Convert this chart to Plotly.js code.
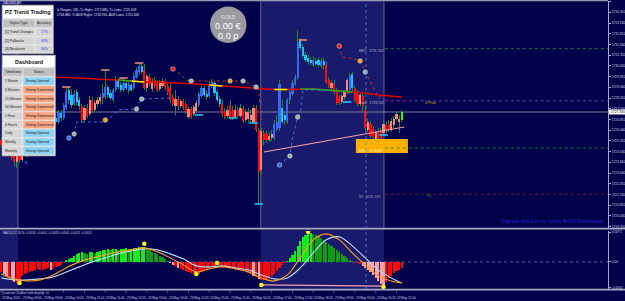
<!DOCTYPE html>
<html><head><meta charset="utf-8">
<script src="https://cdn.plot.ly/plotly-3.0.1.min.js"></script>
<style>html,body{margin:0;padding:0;background:#00004b;overflow:hidden}#chart{width:625px;height:301px}</style>
</head><body><div id="chart"></div>
<script>
// ---------------- DATA ----------------
const barOpen=[1725.37,1725.02,1724.67,1724.88,1724.46,1724.25,1723.83,1724.32,1723.97,1724.53,1725.02,1725.37,1725.16,1725.72,1726.07,1725.86,1726.28,1726.07,1726.49,1726.21,1726.63,1726.91,1726.63,1727.26,1726.91,1727.61,1728.87,1728.52,1727.89,1728.73,1728.17,1727.75,1726.77,1727.61,1727.19,1728.17,1727.47,1727.89,1728.10,1728.31,1728.38,1729.08,1728.66,1728.17,1728.87,1729.57,1729.22,1728.87,1729.36,1728.80,1729.22,1729.01,1729.78,1730.13,1730.55,1730.27,1729.01,1729.78,1728.94,1729.57,1729.36,1728.94,1729.15,1729.50,1729.15,1729.01,1728.38,1727.75,1728.24,1727.75,1728.10,1727.89,1726.98,1727.54,1727.19,1727.40,1727.82,1728.45,1729.01,1728.59,1728.45,1729.22,1729.36,1728.73,1728.24,1727.89,1727.33,1727.05,1727.82,1727.47,1726.98,1727.47,1727.05,1727.54,1726.77,1726.84,1726.77,1726.63,1727.61,1726.07,1723.27,1725.86,1725.79,1725.37,1725.51,1725.51,1726.07,1726.21,1727.61,1727.12,1726.63,1728.17,1728.59,1729.29,1729.71,1732.37,1731.88,1731.32,1731.11,1730.97,1730.62,1730.90,1730.97,1730.55,1730.90,1730.62,1729.57,1729.01,1729.29,1728.87,1728.38,1728.03,1728.38,1728.73,1728.87,1729.99,1729.01,1728.59,1727.89,1728.45,1727.47,1726.07,1726.49,1726.14,1725.44,1725.86,1726.00,1725.86,1726.42,1726.49,1726.07,1726.42,1726.84,1726.63,1726.77];
const barHigh=[1725.58,1725.23,1725.02,1724.95,1724.67,1724.67,1724.46,1724.53,1724.67,1725.16,1725.58,1725.65,1725.93,1726.28,1726.28,1726.49,1726.56,1726.70,1726.77,1726.91,1726.84,1727.12,1727.47,1727.47,1727.96,1729.08,1729.08,1728.94,1728.87,1728.94,1728.38,1727.89,1727.82,1727.89,1728.45,1728.38,1728.17,1728.38,1728.59,1729.29,1730.27,1729.22,1728.87,1729.01,1729.85,1729.71,1729.43,1729.71,1729.57,1729.43,1729.36,1730.06,1730.48,1730.76,1730.69,1730.69,1729.99,1729.99,1729.71,1729.78,1729.57,1729.57,1729.71,1729.64,1729.36,1729.43,1728.59,1728.87,1728.45,1728.24,1728.24,1728.03,1727.75,1727.68,1727.82,1728.17,1728.73,1729.15,1729.15,1728.87,1729.50,1729.64,1729.50,1728.87,1728.45,1728.17,1727.61,1727.75,1728.17,1727.75,1727.82,1727.68,1727.89,1727.75,1727.54,1727.61,1727.47,1727.82,1727.82,1726.21,1726.21,1726.07,1726.00,1725.93,1726.07,1726.77,1727.12,1729.57,1728.17,1727.33,1728.31,1729.01,1729.57,1729.99,1733.07,1732.51,1732.09,1731.53,1731.32,1731.18,1731.25,1731.11,1731.18,1731.11,1731.11,1730.83,1729.78,1729.57,1729.57,1729.01,1728.52,1728.59,1728.87,1729.71,1730.06,1730.13,1729.15,1728.87,1728.73,1728.59,1727.82,1726.84,1726.70,1726.35,1726.07,1726.21,1726.21,1726.70,1726.63,1726.77,1726.91,1727.05,1727.40,1727.12,1727.47];
const barLow=[1724.81,1724.53,1724.46,1724.25,1723.97,1723.55,1723.41,1723.76,1723.83,1724.39,1724.88,1724.95,1725.02,1725.58,1725.65,1725.72,1725.93,1725.93,1726.07,1726.07,1726.28,1726.49,1726.49,1726.70,1726.77,1727.47,1727.89,1727.61,1727.75,1727.82,1727.47,1726.56,1726.63,1726.91,1727.05,1727.26,1727.33,1727.75,1727.89,1727.89,1728.24,1728.31,1728.17,1728.03,1728.73,1728.94,1728.73,1728.73,1728.87,1728.59,1728.73,1728.87,1729.64,1729.92,1729.99,1728.87,1728.73,1729.15,1728.73,1729.01,1728.73,1728.80,1729.01,1728.87,1728.52,1727.96,1727.75,1727.12,1727.47,1727.61,1727.47,1727.19,1726.84,1726.84,1727.05,1727.26,1727.68,1728.31,1728.38,1728.17,1728.31,1729.01,1728.45,1728.03,1727.68,1726.98,1726.84,1726.91,1726.77,1726.77,1726.84,1726.91,1726.91,1726.56,1726.63,1726.56,1726.63,1726.49,1725.93,1720.89,1722.99,1725.02,1725.16,1725.23,1725.30,1725.37,1725.93,1726.00,1726.49,1726.42,1726.49,1727.89,1728.45,1729.15,1729.57,1731.67,1731.11,1730.83,1730.69,1730.62,1730.48,1730.55,1730.48,1730.41,1730.27,1729.29,1729.01,1728.87,1728.59,1727.82,1727.82,1727.89,1728.17,1728.59,1728.59,1728.73,1728.03,1727.75,1727.75,1727.33,1726.07,1725.93,1725.51,1725.37,1725.30,1725.09,1725.30,1725.72,1725.86,1725.93,1725.93,1726.21,1726.70,1725.86,1726.63];
const barClose=[1725.02,1724.67,1724.88,1724.46,1724.11,1723.83,1724.32,1723.97,1724.53,1725.02,1725.37,1725.16,1725.72,1726.07,1725.86,1726.28,1726.07,1726.49,1726.21,1726.63,1726.42,1726.63,1727.33,1726.91,1727.82,1728.73,1728.17,1727.82,1728.59,1728.03,1727.75,1726.77,1727.61,1727.05,1728.17,1727.40,1727.96,1728.17,1728.38,1728.66,1729.08,1728.52,1728.31,1728.87,1729.64,1729.08,1728.87,1729.36,1729.01,1729.29,1728.87,1729.85,1730.27,1730.55,1730.13,1729.01,1729.85,1729.29,1729.50,1729.15,1728.87,1729.36,1729.50,1729.08,1728.73,1728.17,1727.89,1728.24,1727.75,1728.10,1727.68,1727.33,1727.54,1726.98,1727.68,1727.96,1728.59,1729.01,1728.52,1728.38,1729.29,1729.43,1728.66,1728.17,1727.89,1727.19,1726.98,1727.47,1726.91,1726.91,1727.47,1727.05,1727.61,1726.70,1727.33,1727.33,1727.12,1727.61,1726.07,1723.13,1726.00,1725.37,1725.37,1725.65,1725.79,1726.49,1726.63,1729.29,1726.63,1726.77,1728.17,1728.73,1729.36,1729.78,1732.23,1731.81,1731.25,1730.97,1730.83,1730.76,1730.97,1730.69,1730.62,1730.90,1730.62,1729.43,1729.15,1729.36,1728.73,1727.96,1727.96,1728.45,1728.73,1729.57,1729.85,1729.01,1728.17,1727.89,1728.52,1727.75,1726.21,1726.63,1725.65,1725.58,1725.93,1725.51,1725.44,1726.49,1726.07,1726.07,1726.70,1726.84,1727.19,1726.84,1727.33];
// trend state per bar: B up-bull, C up-bear, R down-bear, S down-bull, G current
const barState="RRSRRRSRSBBCBBCBCBRSRCBCBBCCBCCRSRSRSSSBBCCBBCCBCBCBBBCRSRSRRSSRRRRSRSRRSRSSBBCCBBCCCRRSRRSRSRSSSSRRSRRSSBBBCCBBBBBCCCCCBCCBCRRSRRRSSSBCRRSRRSRRSRRSRRSSSSG".split("");
const hiMarkIdx=[25,40,47,53,116], hiMarkPx=[1729.08,1730.27,1729.71,1730.76,1732.37];
const loMarkIdx=[76,89,97,99,133,147], loMarkPx=[1727.12,1726.91,1726.56,1720.89,1728.03,1725.72];
const emaIdx=[0,5,10,15,20,25,30,35,40,45,50,55,60,65,70,75,80,85,90,95,100,105,110,115,120,125,130,135,140,145,150,154];
const emaVal=[1729.85,1729.85,1729.815,1729.78,1729.78,1729.745,1729.71,1729.64,1729.605,1729.57,1729.50,1729.43,1729.43,1729.395,1729.325,1729.29,1729.22,1729.15,1729.08,1729.01,1728.94,1728.905,1728.905,1728.94,1728.94,1728.87,1728.80,1728.73,1728.66,1728.52,1728.45,1728.38];
const emaGreenRanges=[[45,50],[115,135]], emaYellowRanges=[[50,55],[80,85],[105,110]];
const stopUp1Idx=[26,28,29,39,40,41,45,52,54,65], stopUp1Px=[1725.51,1725.79,1726.63,1726.63,1726.77,1726.77,1727.47,1727.54,1728.24,1728.31];
const stopDn1Idx=[66,68,71,73,88,93,98,99,100], stopDn1Px=[1730.34,1730.13,1729.57,1729.50,1729.50,1729.50,1729.08,1728.87,1726.77];
const stopUp2Idx=[107,111,112,114,115,116,125], stopUp2Px=[1723.62,1724.25,1725.51,1726.98,1727.26,1728.87,1728.87];
const stopDn2Idx=[130,131,138,140,145,146], stopDn2Px=[1731.95,1731.18,1730.97,1730.13,1728.38,1728.38];
const dotIdx=[10,26,28,40,52,54,66,73,88,93,98,107,111,114,130,138,140];
const dotPx=[1724.39,1725.51,1725.79,1726.77,1727.54,1728.24,1730.34,1729.50,1729.50,1729.50,1729.08,1723.62,1724.25,1726.98,1731.95,1730.90,1730.13];
const dotKind=["g","b","g","o","g","g","r","g","o","g","g","b","g","g","r","o","g"];
const trendLineIdx=[101,155], trendLinePx=[1724.53,1726.28];
const pivotNames=["MR1","Pivot","MS1","S1"], pivotValues=[1731.762,1728.110,1724.807,1721.579];
const sessionStart=[-0.5,99.8], sessionEnd=[6.4,147.2];
const zoneIdx=[136.4,156.4], zonePx=[1724.46,1725.44];
const cursorIdx=140.3;
const macdHist=[-0.0024,-0.00288,-0.00336,-0.0036,-0.00432,-0.0048,-0.00504,-0.00456,-0.00336,-0.00288,-0.00264,-0.0024,-0.00216,-0.00192,-0.00168,-0.00192,-0.00192,-0.00168,-0.00144,-0.00192,-0.00168,-0.0012,-0.00096,-0.00072,-0.00024,0.00048,0.00072,0.00096,0.00144,0.00192,0.00216,0.0024,0.00216,0.00192,0.0024,0.0024,0.00216,0.0024,0.00264,0.00288,0.00288,0.00312,0.00288,0.00312,0.00312,0.00288,0.00312,0.00312,0.00336,0.00312,0.00312,0.00336,0.00336,0.0036,0.0036,0.0036,0.00336,0.00288,0.0024,0.00216,0.00192,0.00144,0.0012,0.00072,0.00024,-0.00024,-0.00072,-0.00096,-0.00144,-0.00168,-0.00192,-0.00216,-0.0024,-0.00264,-0.00288,-0.00312,-0.00288,-0.0024,-0.00216,-0.00168,-0.00144,-0.0012,-0.00096,-0.00072,-0.00096,-0.0012,-0.0012,-0.00144,-0.00144,-0.00144,-0.00168,-0.00168,-0.00192,-0.00216,-0.0024,-0.00264,-0.00288,-0.00336,-0.0036,-0.00408,-0.00432,-0.00432,-0.00408,-0.00384,-0.00336,-0.00288,-0.00216,-0.00144,-0.00072,-0.00024,0.00024,0.00096,0.00168,0.00264,0.00384,0.00504,0.006,0.00648,0.00696,0.00696,0.00672,0.00648,0.00624,0.00576,0.00528,0.0048,0.00432,0.00384,0.00336,0.00288,0.0024,0.00192,0.00144,0.00096,0.00048,0.00024,0.00005,-0.00024,-0.00048,-0.00096,-0.00144,-0.00192,-0.0024,-0.00312,-0.00384,-0.00456,-0.00528,-0.00576,-0.0048,-0.00384,-0.00336,-0.00264,-0.00216,-0.00192,-0.00144];
const sigIdx=[0,5,10,15,20,25,30,35,40,45,50,55,60,65,70,75,80,85,90,95,100,105,110,115,120,125,130,135,140,145,150,154];
const sigFast=[-0.00288,-0.00408,-0.00456,-0.00432,-0.00312,-0.00144,0,0.00096,0.00168,0.0024,0.00288,0.00336,0.0024,0.00096,-0.00072,-0.0024,-0.00168,-0.0012,-0.00168,-0.0024,-0.00384,-0.00456,-0.00312,0.00096,0.00528,0.00672,0.00528,0.00216,-0.00072,-0.00336,-0.00456,-0.00504];
const sigSlow=[-0.00384,-0.00432,-0.00432,-0.00408,-0.0036,-0.0024,-0.0012,0,0.00096,0.00192,0.00264,0.00312,0.00288,0.00192,0.00072,-0.00096,-0.0012,-0.00096,-0.00144,-0.00192,-0.00312,-0.00408,-0.00384,-0.00144,0.00216,0.00528,0.006,0.00384,0.00096,-0.00192,-0.00384,-0.00504];
const extIdx=[7,55,75,83,100,118,147], extVal=[-0.00504,0.00432,-0.00288,-0.00024,-0.00552,0.0072,-0.006];
const divIdx=[100,147], divVal=[-0.00552,-0.0058];
const priceTicks=[1735.06,1734.31,1733.56,1732.81,1732.06,1731.31,1730.56,1729.81,1729.06,1728.31,1727.56,1726.81,1726.06,1725.31,1724.56,1723.81,1723.06,1722.31,1721.56,1720.81,1720.06,1719.31];
const macdTicks=[0.0071,0,-0.0062], macdTickText=["0.0071","0.00","-0.0062"];
const timeLabelIdx=[0,8,16,24,32,40,48,56,64,72,80,88,96,104,112,120,128,136,144,152];
const timeLabels=["23 May 2020","23 May 09:00","23 May 09:40","23 May 10:20","23 May 11:00","23 May 11:40","23 May 12:20","23 May 13:00","23 May 13:40","23 May 14:20","23 May 15:00","23 May 15:40","23 May 16:20","23 May 17:00","23 May 17:40","23 May 18:20","23 May 19:00","23 May 19:40","23 May 20:20","23 May 21:00"];
const signalTypes=["[1] Trend Changes","[2] Pullbacks","[3] Breakouts"], signalAccuracy=["57%","84%","84%"];
const timeframes=["1 Minute","5 Minutes","15 Minutes","30 Minutes","1 Hour","4 Hours","Daily","Weekly","Monthly"];
const tfStatus=["Strong Uptrend","Strong Downtrend","Strong Downtrend","Strong Downtrend","Strong Downtrend","Strong Downtrend","Strong Uptrend","Strong Uptrend","Strong Uptrend"];

// ---------------- STYLE / BUILD ----------------
const W=625,H=301, BG='#00004b';
const px=x=>x/W, py=y=>1-y/H;
const FONT='Liberation Sans, Arial, sans-serif';
const N=barOpen.length, idx=barOpen.map((_,i)=>i);
const stateCol={B:'#3468f0',C:'#16c4fa',R:'#ff0a0a',S:'#f78a7a',G:'#22ff22'};
const bodyBase=idx.map(i=>Math.min(barOpen[i],barClose[i]));
const bodyLen=idx.map(i=>Math.max(Math.abs(barClose[i]-barOpen[i]),0.035));
const traces=[];
traces.push({type:'bar',x:idx,base:barLow,y:idx.map(i=>barHigh[i]-barLow[i]),width:0.38,marker:{color:barState.map(s=>(s==='R'||s==='S')?'#2a8a2a':'#1c8c1c'),line:{width:0}},xaxis:'x',yaxis:'y',hoverinfo:'skip'});
traces.push({type:'bar',x:idx,base:bodyBase,y:bodyLen,width:0.8,marker:{color:barState.map(s=>stateCol[s]),line:{width:0}},xaxis:'x',yaxis:'y',hoverinfo:'skip'});
traces.push({type:'scatter',mode:'lines',x:emaIdx,y:emaVal,line:{color:'#e00000',width:1.6},xaxis:'x',yaxis:'y'});
function seg(r,col){const xs=[],ys=[];emaIdx.forEach((v,k)=>{if(v>=r[0]&&v<=r[1]){xs.push(v);ys.push(emaVal[k]);}});traces.push({type:'scatter',mode:'lines',x:xs,y:ys,line:{color:col,width:1.6},xaxis:'x',yaxis:'y'});}
emaGreenRanges.forEach(r=>seg(r,'#20b020')); emaYellowRanges.forEach(r=>seg(r,'#f0f000'));
traces.push({type:'scatter',mode:'lines',x:trendLineIdx,y:trendLinePx,line:{color:'#f4a0a0',width:1.2},xaxis:'x',yaxis:'y'});
[[stopUp1Idx,stopUp1Px,'#3a70e8'],[stopDn1Idx,stopDn1Px,'#c03030'],[stopUp2Idx,stopUp2Px,'#3a70e8'],[stopDn2Idx,stopDn2Px,'#c03030']].forEach(s=>traces.push({type:'scatter',mode:'lines',x:s[0],y:s[1],line:{color:s[2],width:1,dash:'dot'},xaxis:'x',yaxis:'y'}));
const dotCol={b:'#2a6cff',g:'#9ab8a8',o:'#ff9a10',r:'#ff1010'};
traces.push({type:'scatter',mode:'markers',x:dotIdx,y:dotPx,marker:{size:4.5,color:dotKind.map(k=>dotCol[k]),line:{width:0.6,color:'#c8d8d0'}},xaxis:'x',yaxis:'y'});
traces.push({type:'scatter',mode:'markers',x:hiMarkIdx,y:hiMarkPx,marker:{symbol:'line-ew',size:6,line:{width:1.5,color:'#f09080'}},xaxis:'x',yaxis:'y'});
traces.push({type:'scatter',mode:'markers',x:loMarkIdx,y:loMarkPx,marker:{symbol:'line-ew',size:6,line:{width:1.5,color:'#20d0ff'}},xaxis:'x',yaxis:'y'});
// MACD subpanel
const histCol=macdHist.map((v,i)=>{const p=i?macdHist[i-1]:v;if(v>=0)return v>=p?'#10f010':'#129a12';return (v<p-0.0003)?'#ffa0a0':'#ff0808';});
traces.push({type:'bar',x:idx,y:macdHist,width:0.8,marker:{color:histCol,line:{width:0}},xaxis:'x2',yaxis:'y2'});
traces.push({type:'scatter',mode:'lines',x:sigIdx,y:sigSlow,line:{color:'#b8d8f0',width:1.1,shape:'spline'},xaxis:'x2',yaxis:'y2'});
traces.push({type:'scatter',mode:'lines',x:sigIdx,y:sigFast,line:{color:'#ffa020',width:1.1,shape:'spline'},xaxis:'x2',yaxis:'y2'});
traces.push({type:'scatter',mode:'lines',x:divIdx,y:divVal,line:{color:'#f4a0b0',width:1.2},xaxis:'x2',yaxis:'y2'});
traces.push({type:'scatter',mode:'markers',x:extIdx,y:extVal,marker:{size:4.5,color:'#ffff20'},xaxis:'x2',yaxis:'y2'});

const shapes=[], ann=[];
function rect(x0,y0,x1,y1,fill,line,layer){shapes.push({type:'rect',xref:'paper',yref:'paper',x0:px(x0),x1:px(x1),y0:py(y1),y1:py(y0),fillcolor:fill,line:{width:line?0.6:0,color:line||fill},layer:layer||'above'});}
function hline(x0,x1,y,col,w,dash,layer){shapes.push({type:'line',xref:'paper',yref:'paper',x0:px(x0),x1:px(x1),y0:py(y),y1:py(y),line:{color:col,width:w,dash:dash||'solid'},layer:layer||'above'});}
function text(x,y,t,o){o=o||{};ann.push({xref:'paper',yref:'paper',x:px(x),y:py(y),text:t,showarrow:false,xanchor:o.xa||'left',yanchor:'middle',font:{family:FONT,size:o.size||3.4,color:o.color||'#d0d0e0',weight:o.bold?'bold':'normal'},borderpad:0});}
// session bands
sessionStart.forEach((s,k)=>{shapes.push({type:'rect',xref:'x',yref:'paper',x0:s,x1:sessionEnd[k],y0:py(289),y1:py(1),fillcolor:'#1a1a6c',line:{width:0},layer:'below'});
 [s,sessionEnd[k]].forEach(v=>{if(v>0)shapes.push({type:'line',xref:'x',yref:'paper',x0:v,x1:v,y0:py(228),y1:py(1),line:{color:'#7878a0',width:0.8},layer:'below'});});});
// frame lines
hline(0,608,0.6,'#9a9ab4',1.2); hline(0,625,228.6,'#a8a8c0',1.6); hline(0,625,289.6,'#a8a8c0',1.6);
// current price line
shapes.push({type:'line',xref:'paper',yref:'y',x0:0,x1:px(608),y0:barClose[N-1],y1:barClose[N-1],line:{color:'#8a8aa6',width:0.9},layer:'below'});
// zone box
shapes.push({type:'rect',xref:'x',yref:'y',x0:zoneIdx[0],x1:zoneIdx[1],y0:zonePx[0],y1:zonePx[1],fillcolor:'#ffb000',line:{width:0},layer:'above'});
// pivots
const pivCol=['#1e8a3a','#8a3ab0','#1e8a3a','#8a1e2a'];
pivotValues.forEach((v,k)=>{shapes.push({type:'line',xref:'x',yref:'y',x0:147.5,x1:233.35,y0:v,y1:v,line:{color:pivCol[k],width:0.9,dash:'dot'},layer:'above'});
 ann.push({xref:'x',yref:'y',x:137,y:v,yshift:-2.5,text:pivotNames[k]+' · '+v.toFixed(3),showarrow:false,xanchor:'left',font:{family:FONT,size:3.4,color:k==2?'#fff0c0':'#b8b8d0'}});});
ann.push({xref:'paper',yref:'y',x:px(423),y:pivotValues[1],yshift:-2,text:'D.Pivot',showarrow:false,xanchor:'left',font:{family:FONT,size:3.4,color:'#c8c820'}});
ann.push({xref:'paper',yref:'y',x:px(425),y:pivotValues[3],yshift:-2,text:'S1',showarrow:false,xanchor:'left',font:{family:FONT,size:3.6,color:'#20a020'}});
// cursor vline
shapes.push({type:'line',xref:'x',yref:'paper',x0:cursorIdx,x1:cursorIdx,y0:py(289),y1:py(1),line:{color:'#4a8ad8',width:0.8,dash:'dot'},layer:'above'});
// macd zero line
shapes.push({type:'line',xref:'paper',yref:'y2',x0:0,x1:px(608),y0:0,y1:0,line:{color:'#5a5a9a',width:1,dash:'dot'},layer:'below'});
// PZ panel
rect(2,5,53.5,53.5,'#c8c8c8','#a0a0a0');
rect(3,6,52.5,18.5,'#ffffff');
text(27.7,12.3,'PZ Trend Trading',{xa:'center',size:5.6,bold:true,color:'#101010'});
rect(3,19.3,35,27.3,'#c0c0c0','#e8e8e8'); rect(35.5,19.3,52.5,27.3,'#c0c0c0','#e8e8e8');
text(19,23.3,'Signal Type',{xa:'center',color:'#202020'}); text(44,23.3,'Accuracy',{xa:'center',color:'#202020'});
signalTypes.forEach((s,k)=>{const y0=28+k*8.5;rect(3,y0,35,y0+8,'#d6d6d6','#eeeeee');rect(35.5,y0,52.5,y0+8,'#d6d6d6','#eeeeee');
 text(4,y0+4,s,{color:'#202020'}); text(44,y0+4,signalAccuracy[k],{xa:'center',color:'#3a3aff'});});
// Dashboard panel
rect(2,55,55.5,156,'#c8c8c8','#a0a0a0');
rect(3,56,54.5,67.3,'#ffffff');
text(29,61.7,'Dashboard',{xa:'center',size:5.4,bold:true,color:'#101010'});
rect(3,68,22.5,76.3,'#c0c0c0','#e8e8e8'); rect(23,68,54.5,76.3,'#c0c0c0','#e8e8e8');
text(12.8,72.2,'Timeframe',{xa:'center',color:'#202020'}); text(38.7,72.2,'Status',{xa:'center',color:'#202020'});
timeframes.forEach((t,k)=>{const y0=77+k*8.7;const up=tfStatus[k].indexOf('Up')>=0;
 rect(3,y0,22.5,y0+8.2,'#d6d6d6','#eeeeee'); rect(23,y0,54.5,y0+8.2,up?'#8ed2f2':'#f8a482','#eeeeee');
 text(4,y0+4.1,t,{color:'#202020'}); text(24.5,y0+4.1,tfStatus[k],{color:'#202020'});});
// GOLD circle
shapes.push({type:'circle',xref:'paper',yref:'paper',x0:px(210),x1:px(246.5),y0:py(43),y1:py(6.5),fillcolor:'#9a9aa0',line:{width:0},layer:'above'});
text(228,17.5,'GOLD',{xa:'center',size:5,color:'#e8e8e8'});
text(228,25.5,'0.00 €',{xa:'center',size:9.2,color:'#ffffff'});
text(228,35.5,'0.0 p',{xa:'center',size:9.2,color:'#ffffff'});
// header texts (start right of the panels, as in the reference)
text(2,2.6,'XAUUSD,M5',{size:3.2,color:'#e0e0f0'});
text(56,10.5,'ly Ranges: 265, Tv Highs: 1727.680, Tv Lows: 1725.618',{size:3.2,color:'#e0e0f0'});
text(56,15,'1734.880, Tv ADR Highs: 1728.700, ADR Lows: 1720.308',{size:3.2,color:'#e0e0f0'});
text(605,222,'Upgrade and Get our Jonny MACD Dashboard!',{xa:'right',size:4.6,bold:true,color:'#1c1cb0'});
text(24,162,'0',{size:4,color:'#3a8aff',bold:true});
// current price label
rect(609,109.5,625,114.5,'#ffffff');
text(610,112,barClose[N-1].toFixed(3),{size:3.3,color:'#000000'});
// subpanel labels
text(2,233,'MACD(12,26,9) -0.0024 -0.0001 -0.0026 0.0003 -0.0021 -0.0024',{size:3.1,color:'#d0d0e0'});
text(1,293,'Quantum Channel with display: x1',{size:3.1,color:'#d0d0e0'});
// time labels
timeLabelIdx.forEach((b,k)=>{ann.push({xref:'x2',yref:'paper',x:b,y:py(297.5),text:timeLabels[k],showarrow:false,xanchor:'left',yanchor:'middle',font:{family:FONT,size:3.1,color:'#d0d0e0'},xshift:-1});
 shapes.push({type:'line',xref:'x2',yref:'paper',x0:b,x1:b,y0:py(290.5),y1:py(292.5),line:{color:'#a0a0c0',width:0.6}});});

const layout={width:W,height:H,margin:{l:0,r:0,t:0,b:0},paper_bgcolor:BG,plot_bgcolor:BG,showlegend:false,barmode:'overlay',bargap:0,
 font:{family:FONT,color:'#d0d0e0'},
 xaxis:{domain:[0,608/625],range:[-0.5,233.35],anchor:'y',showticklabels:false,showgrid:false,zeroline:false,showline:false,ticks:''},
 xaxis2:{domain:[0,608/625],range:[-0.5,233.35],matches:'x',anchor:'y2',showticklabels:false,showgrid:false,zeroline:false,showline:false,ticks:''},
 yaxis:{domain:[py(228),py(1)],range:[1719.21,1735.10],side:'right',tickvals:priceTicks,ticktext:priceTicks.map(v=>v.toFixed(3)),tickfont:{size:3.3,color:'#d0d0e0',family:FONT},ticks:'outside',ticklen:2,tickcolor:'#a0a0c0',showline:true,linecolor:'#a8a8c0',linewidth:1,showgrid:false,zeroline:false},
 yaxis2:{domain:[py(289),py(231)],range:[-0.0065,0.0074],side:'right',tickvals:macdTicks,ticktext:macdTickText,tickfont:{size:3.3,color:'#d0d0e0',family:FONT},ticks:'outside',ticklen:2,tickcolor:'#a0a0c0',showline:true,linecolor:'#a8a8c0',linewidth:1,showgrid:false,zeroline:false},
 shapes:shapes,annotations:ann};
Plotly.newPlot('chart',traces,layout,{staticPlot:true,displayModeBar:false});
</script></body></html>
